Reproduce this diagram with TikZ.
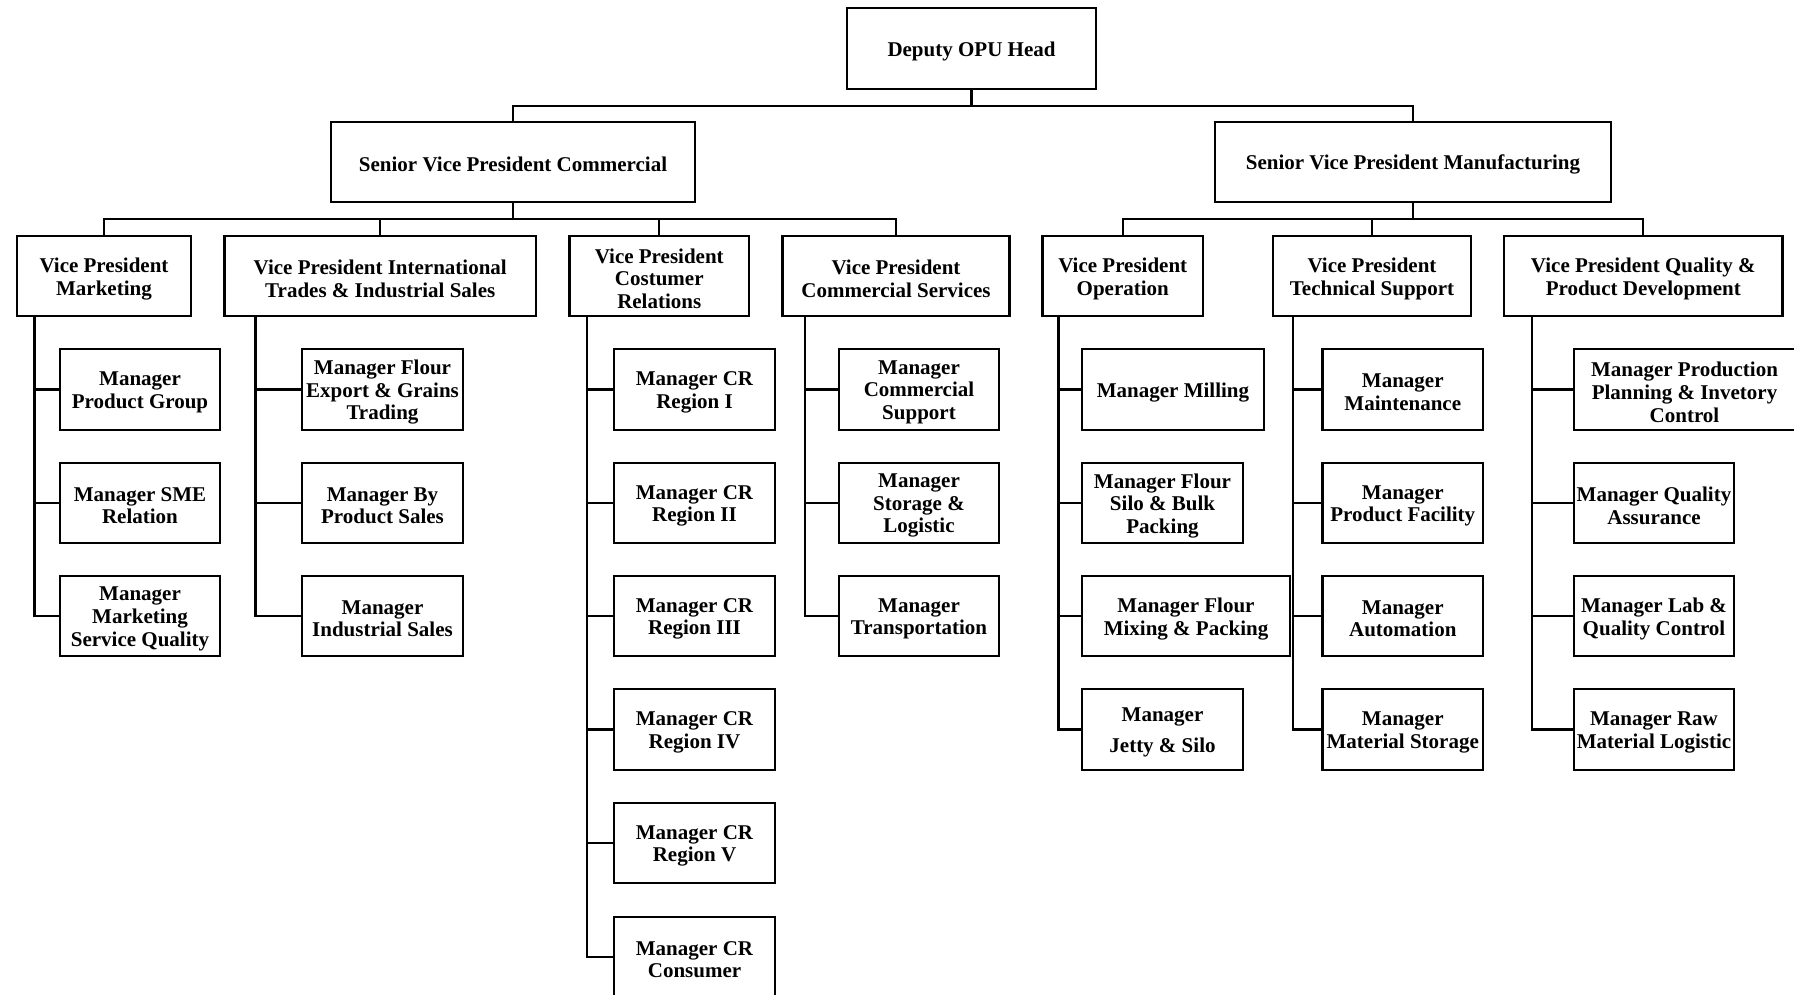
\documentclass[tikz,border=0pt]{standalone}
\usepackage{fontspec}
\setmainfont{Liberation Serif}
\begin{document}
\begin{tikzpicture}[x=0.5pt,y=-0.5pt,
  box/.style={draw,line width=1.15pt,inner sep=0pt},
  boxtext/.style={inner sep=0pt,align=center,yshift=-1.4pt,
    font=\fontsize{10.5pt}{11.3pt}\selectfont\bfseries},
  link/.style={line width=1.15pt}]
\clip (0,0) rectangle (1794,995);
\fill[white] (0,0) rectangle (1794,995);
% box from corner (x1,y1) to (x2,y2) in pixel units, text set at its centre
\newcommand\bx[6]{\node[box,minimum width={(#4-#2)*0.5pt},minimum height={(#5-#3)*0.5pt},
  label={[boxtext]center:{#6}}]
  (#1) at ({(#2+#4)/2},{(#3+#5)/2}) {};}

% top levels
\bx{dep}{847}{8}{1096}{89}{Deputy OPU Head}
\bx{svpc}{331}{122}{695}{202}{Senior Vice President Commercial}
\bx{svpm}{1215}{122}{1611}{202}{Senior Vice President Manufacturing}

% vice presidents
\bx{vpm}{17}{236}{191}{316}{Vice President\\Marketing}
\bx{vpi}{224.5}{236}{536}{316}{Vice President International\\Trades \& Industrial Sales}
\bx{vpr}{569.5}{236}{749}{316}{Vice President\\Costumer\\Relations}
\bx{vps}{782.5}{236}{1009.5}{316}{Vice President\\Commercial Services}
\bx{vpo}{1042.5}{236}{1203}{316}{Vice President\\Operation}
\bx{vpt}{1273}{236}{1471}{316}{Vice President\\Technical Support}
\bx{vpq}{1504}{236}{1782.5}{316}{Vice President Quality \&\\Product Development}

% marketing
\bx{ma1}{60}{349}{220}{430}{Manager\\Product Group}
\bx{ma2}{60}{463}{220}{543}{Manager SME\\Relation}
\bx{ma3}{60}{576}{220}{656}{Manager\\Marketing\\Service Quality}
% international trades
\bx{mb1}{302}{349}{463}{430}{Manager Flour\\Export \& Grains\\Trading}
\bx{mb2}{302}{463}{463}{543}{Manager By\\Product Sales}
\bx{mb3}{302}{576}{463}{656}{Manager\\Industrial Sales}
% costumer relations
\bx{mc1}{614}{349}{775}{430}{Manager CR\\Region I}
\bx{mc2}{614}{463}{775}{543}{Manager CR\\Region II}
\bx{mc3}{614}{576}{775}{656}{Manager CR\\Region III}
\bx{mc4}{614}{689}{775}{770}{Manager CR\\Region IV}
\bx{mc5}{614}{803}{775}{883}{Manager CR\\Region V}
\bx{mc6}{614}{917}{775}{997}{Manager CR\\Consumer}
% commercial services
\bx{md1}{839}{349}{999}{430}{Manager\\Commercial\\Support}
\bx{md2}{839}{463}{999}{543}{Manager\\Storage \&\\Logistic}
\bx{md3}{839}{576}{999}{656}{Manager\\Transportation}
% operation
\bx{me1}{1082}{349}{1264}{430}{Manager Milling}
\bx{me2}{1082}{463}{1243}{543}{Manager Flour\\Silo \& Bulk\\Packing}
\bx{me3}{1082}{576}{1290}{656}{Manager Flour\\Mixing \& Packing}
\bx{me4}{1082}{689}{1243}{770}{Manager\\[4.5pt]Jetty \& Silo}
% technical support
\bx{mf1}{1322.5}{349}{1483}{430}{Manager\\Maintenance}
\bx{mf2}{1322.5}{463}{1483}{543}{Manager\\Product Facility}
\bx{mf3}{1322.5}{576}{1483}{656}{Manager\\Automation}
\bx{mf4}{1322.5}{689}{1483}{770}{Manager\\Material Storage}
% quality
\bx{mg1}{1574}{349}{1795}{430}{Manager Production\\Planning \& Invetory\\Control}
\bx{mg2}{1574}{463}{1734}{543}{Manager Quality\\Assurance}
\bx{mg3}{1574}{576}{1734}{656}{Manager Lab \&\\Quality Control}
\bx{mg4}{1574}{689}{1734}{770}{Manager Raw\\Material Logistic}

% bus levels and trunk positions
\coordinate (b0) at (0,106);
\coordinate (b1) at (0,219);
\coordinate (ta) at (34.5,0);
\coordinate (tb) at (255.5,0);
\coordinate (tc) at (587,0);
\coordinate (td) at (805,0);
\coordinate (te) at (1058.5,0);
\coordinate (tf) at (1293,0);
\coordinate (tg) at (1532,0);

% top connectors
\draw[link] (dep.south) -- (dep.south |- b0);
\draw[link] (svpc.north) -- (svpc.north |- b0) -- (svpm.north |- b0) -- (svpm.north);
\draw[link] (svpc.south) -- (svpc.south |- b1);
\draw[link] (vpm.north) -- (vpm.north |- b1) -- (vps.north |- b1) -- (vps.north);
\draw[link] (vpi.north) -- (vpi.north |- b1);
\draw[link] (vpr.north) -- (vpr.north |- b1);
\draw[link] (svpm.south) -- (svpm.south |- b1);
\draw[link] (vpo.north) -- (vpo.north |- b1) -- (vpq.north |- b1) -- (vpq.north);
\draw[link] (vpt.north) -- (vpt.north |- b1);

% trunks with branches
\draw[link] (vpm.south -| ta) |- (ma3.west);
\foreach \m in {ma1,ma2} \draw[link] (\m.west) -- (\m.west -| ta);
\draw[link] (vpi.south -| tb) |- (mb3.west);
\foreach \m in {mb1,mb2} \draw[link] (\m.west) -- (\m.west -| tb);
\draw[link] (vpr.south -| tc) |- (mc6.west);
\foreach \m in {mc1,mc2,mc3,mc4,mc5} \draw[link] (\m.west) -- (\m.west -| tc);
\draw[link] (vps.south -| td) |- (md3.west);
\foreach \m in {md1,md2} \draw[link] (\m.west) -- (\m.west -| td);
\draw[link] (vpo.south -| te) |- (me4.west);
\foreach \m in {me1,me2,me3} \draw[link] (\m.west) -- (\m.west -| te);
\draw[link] (vpt.south -| tf) |- (mf4.west);
\foreach \m in {mf1,mf2,mf3} \draw[link] (\m.west) -- (\m.west -| tf);
\draw[link] (vpq.south -| tg) |- (mg4.west);
\foreach \m in {mg1,mg2,mg3} \draw[link] (\m.west) -- (\m.west -| tg);
\end{tikzpicture}
\end{document}
